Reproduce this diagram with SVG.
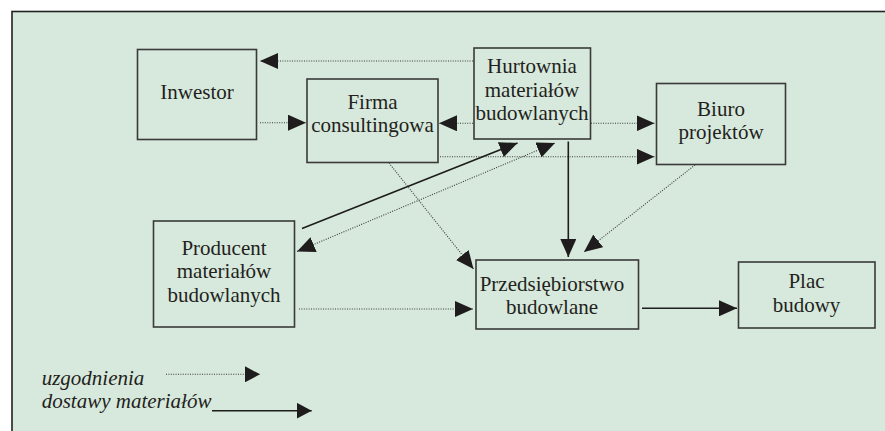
<svg xmlns="http://www.w3.org/2000/svg" width="885" height="431" viewBox="0 0 885 431">
<defs>
<marker id="ah" markerUnits="userSpaceOnUse" markerWidth="18" markerHeight="16" refX="18" refY="8" orient="auto" viewBox="0 0 18 16">
<path d="M0,0 L18,8 L0,16 z" fill="#1e1c1c"/>
</marker>
<marker id="ahs" markerUnits="userSpaceOnUse" markerWidth="18" markerHeight="16" refX="18" refY="8" orient="auto-start-reverse" viewBox="0 0 18 16">
<path d="M0,0 L18,8 L0,16 z" fill="#1e1c1c"/>
</marker>
<marker id="al" markerUnits="userSpaceOnUse" markerWidth="15" markerHeight="16" refX="15" refY="8" orient="auto" viewBox="0 0 15 16">
<path d="M0,0 L15,8 L0,16 z" fill="#1e1c1c"/>
</marker>
</defs>
<style>
.box{fill:none;stroke:#3a3a3a;stroke-width:1.6}
.dot{fill:none;stroke:#3a3a3a;stroke-width:1.1;stroke-dasharray:1 1.4}
.sol{fill:none;stroke:#1e1c1c;stroke-width:1.6}
text{font-family:'Liberation Serif',serif;font-size:21px;fill:#231f20}
.t{text-anchor:middle}
.lg{font-style:italic}
</style>
<rect x="0" y="0" width="885" height="431" fill="#ffffff"/>
<rect x="12" y="11.5" width="880" height="430" fill="#d7e9dc" stroke="#222" stroke-width="1.6"/>

<g id="connectors">
<line class="dot" x1="473" y1="61" x2="260" y2="61" marker-end="url(#ah)"/>
<line class="dot" x1="260" y1="122.7" x2="306" y2="122.7" marker-end="url(#ah)"/>
<line class="dot" x1="473" y1="123.3" x2="439" y2="123.3" marker-end="url(#ah)"/>
<line class="dot" x1="591" y1="123.3" x2="654.5" y2="123.3" marker-end="url(#ah)"/>
<line class="dot" x1="440" y1="156.7" x2="654.5" y2="156.7" marker-end="url(#ah)"/>
<line class="sol" x1="302" y1="228.5" x2="517.5" y2="143" marker-end="url(#ah)"/>
<line class="dot" x1="297" y1="251.5" x2="555" y2="143" marker-start="url(#ahs)" marker-end="url(#ah)"/>
<line class="dot" x1="389" y1="163" x2="473.5" y2="269" marker-end="url(#ah)"/>
<line class="sol" x1="568.3" y1="141.5" x2="568.3" y2="257" marker-end="url(#ah)"/>
<line class="dot" x1="695" y1="165" x2="584" y2="252" marker-end="url(#ah)"/>
<line class="dot" x1="299" y1="309" x2="473" y2="309" marker-end="url(#ah)"/>
<line class="sol" x1="642" y1="308.3" x2="737" y2="308.3" marker-end="url(#ah)"/>
</g>

<g id="inwestor">
<rect class="box" x="137.5" y="49.5" width="119" height="90"/>
<text class="t" x="197" y="99.3">Inwestor</text>
</g>
<g id="firma">
<rect class="box" x="307" y="79" width="131" height="83.5"/>
<text class="t" x="372.5" y="109">Firma</text>
<text class="t" x="372.5" y="131.7">consultingowa</text>
</g>
<g id="hurtownia">
<rect class="box" x="474" y="48" width="116.5" height="91"/>
<text class="t" x="532" y="72.7">Hurtownia</text>
<text class="t" x="532" y="96.5">materiałów</text>
<text class="t" x="532" y="120">budowlanych</text>
</g>
<g id="biuro">
<rect class="box" x="656.5" y="83.5" width="129" height="81"/>
<text class="t" x="721" y="116">Biuro</text>
<text class="t" x="721" y="139">projektów</text>
</g>
<g id="producent">
<rect class="box" x="153.5" y="221" width="141" height="106"/>
<text class="t" x="224" y="255">Producent</text>
<text class="t" x="224" y="278.3">materiałów</text>
<text class="t" x="224" y="301.7">budowlanych</text>
</g>
<g id="przedsiebiorstwo">
<rect class="box" x="476" y="260" width="162.5" height="69"/>
<text class="t" x="552" y="291">Przedsiębiorstwo</text>
<text class="t" x="552" y="314.3">budowlane</text>
</g>
<g id="plac">
<rect class="box" x="738.5" y="262" width="136.5" height="66"/>
<text class="t" x="806.5" y="288.3">Plac</text>
<text class="t" x="806.5" y="311.7">budowy</text>
</g>

<g id="legend">
<text class="lg" x="41.7" y="385">uzgodnienia</text>
<text class="lg" x="41.7" y="408.3">dostawy materiałów</text>
<line class="dot" x1="166" y1="374.3" x2="260" y2="374.3" marker-end="url(#al)"/>
<line class="sol" x1="212" y1="410.7" x2="311.7" y2="410.7" marker-end="url(#al)"/>
</g>
</svg>
